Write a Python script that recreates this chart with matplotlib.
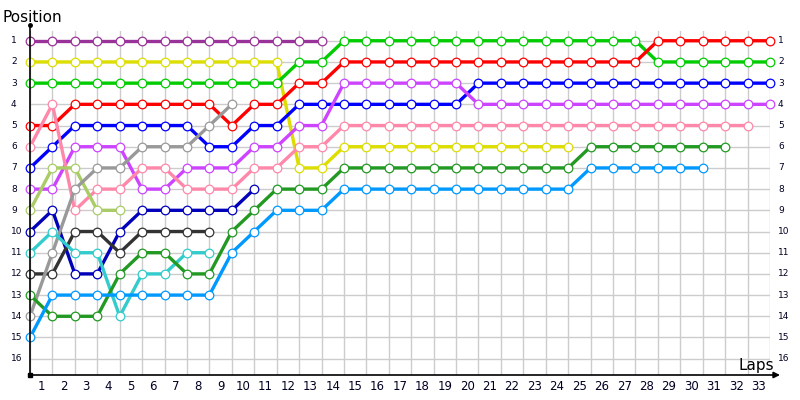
import matplotlib
matplotlib.use("Agg")
import matplotlib.pyplot as plt
from matplotlib.transforms import blended_transform_factory

# positions per lap, starting at lap 0
purple = [1] * 14
yellow = [2] * 12 + [7, 7] + [6] * 11
green = [3] * 12 + [2, 2] + [1] * 14 + [2] * 6
red = [5, 5, 4, 4, 4, 4, 4, 4, 4, 5, 4, 4, 3, 3] + [2] * 14 + [1] * 6
blue = [7, 6, 5, 5, 5, 5, 5, 5, 6, 6, 5, 5, 4, 4, 4, 4, 4, 4, 4, 4] + [3] * 14
magenta = [8, 8, 6, 6, 6, 8, 8, 7, 7, 7, 6, 6, 5, 5, 3, 3, 3, 3, 3, 3] + [4] * 14
pink = [6, 4, 9, 8, 8, 7, 7, 8, 8, 8, 7, 7, 6, 6] + [5] * 19
lightgreen = [9, 7, 7, 9, 9]
darkblue = [10, 9, 12, 12, 10, 9, 9, 9, 9, 9, 8]
darkgray = [12, 12, 10, 10, 11, 10, 10, 10, 10]
gray = [14, 11, 8, 7, 7, 6, 6, 6, 5, 4]
cyan = [11, 10, 11, 11, 14, 12, 12, 11, 11]
darkgreen = [13, 14, 14, 14, 12, 11, 11, 12, 12, 10, 9, 8, 8, 8] + [7] * 11 + [6] * 7
lightblue = [15] + [13] * 8 + [11, 10, 9, 9, 9] + [8] * 11 + [7] * 6

series = [
    (purple, '#993399'), (yellow, '#DDDD00'), (green, '#00CC00'), (red, '#FF0000'),
    (blue, '#0000FF'), (magenta, '#CC44FF'), (pink, '#FF88AA'), (lightgreen, '#AACC66'),
    (darkblue, '#0000BB'), (darkgray, '#333333'), (gray, '#999999'), (cyan, '#33CCCC'),
    (darkgreen, '#229922'), (lightblue, '#0099FF'),
]

n_laps = 33
positions = list(range(1, 17))
lap_labels = [str(i) for i in range(1, n_laps + 1)]

W, H = 800, 400
fig = plt.figure(figsize=(8, 4), dpi=100)
ax = fig.add_axes([30 / W, 1 - 375 / H, 740 / W, (375 - 31) / H])
ax.set_xlim(0, n_laps)
ax.set_ylim(16.77, 0.54)
for s in ax.spines.values():
    s.set_visible(False)
ax.set_xticks([])
ax.set_yticks([])

grid_c = '#CCCCCC'
for x in range(0, n_laps + 1):
    ax.axvline(x, color=grid_c, lw=1, zorder=0)
for p in positions:
    ax.axhline(p, color=grid_c, lw=1, zorder=0)

for vals, col in series:
    xs = list(range(len(vals)))
    ax.plot(xs, vals, color=col, lw=2.4, marker='o', ms=6.2, mfc='white',
            mec=col, mew=0.9, clip_on=False, zorder=3, solid_joinstyle='round')

# axes lines
fig.add_artist(plt.Line2D([30 / W, 30 / W], [1 - 25 / H, 1 - 375 / H],
                          color='black', lw=1.2, transform=fig.transFigure))
fig.add_artist(plt.Line2D([30 / W], [1 - 25 / H], marker='o', ms=2.5,
                          color='black', transform=fig.transFigure))
fig.add_artist(plt.Line2D([30 / W], [1 - 375 / H], marker='s', ms=2.5,
                          color='black', transform=fig.transFigure))
ax.annotate('', xy=(780 / W, 1 - 375 / H), xytext=(30 / W, 1 - 375 / H),
            xycoords='figure fraction', textcoords='figure fraction',
            arrowprops=dict(arrowstyle='-|>', color='black', lw=1.2,
                            mutation_scale=9, shrinkA=0, shrinkB=0))

tl = blended_transform_factory(fig.transFigure, ax.transData)
for p in positions:
    ax.text(11 / W, p, str(p), transform=tl, ha='left', va='center',
            fontsize=6.5, color='#000022')
    ax.text(778 / W, p, str(p), transform=tl, ha='left', va='center',
            fontsize=6.5, color='#000022')

tb = blended_transform_factory(ax.transData, fig.transFigure)
for i, lab in enumerate(lap_labels):
    ax.text(i + 0.5, 1 - 386 / H, lab, transform=tb, ha='center', va='center',
            fontsize=8.5, color='#000022')

fig.text(3 / W, 1 - 22 / H, 'Position', ha='left', va='baseline', fontsize=11)
fig.text(774 / W, 1 - 370 / H, 'Laps', ha='right', va='baseline', fontsize=11)

fig.savefig('out.png', dpi=100, facecolor='white')
